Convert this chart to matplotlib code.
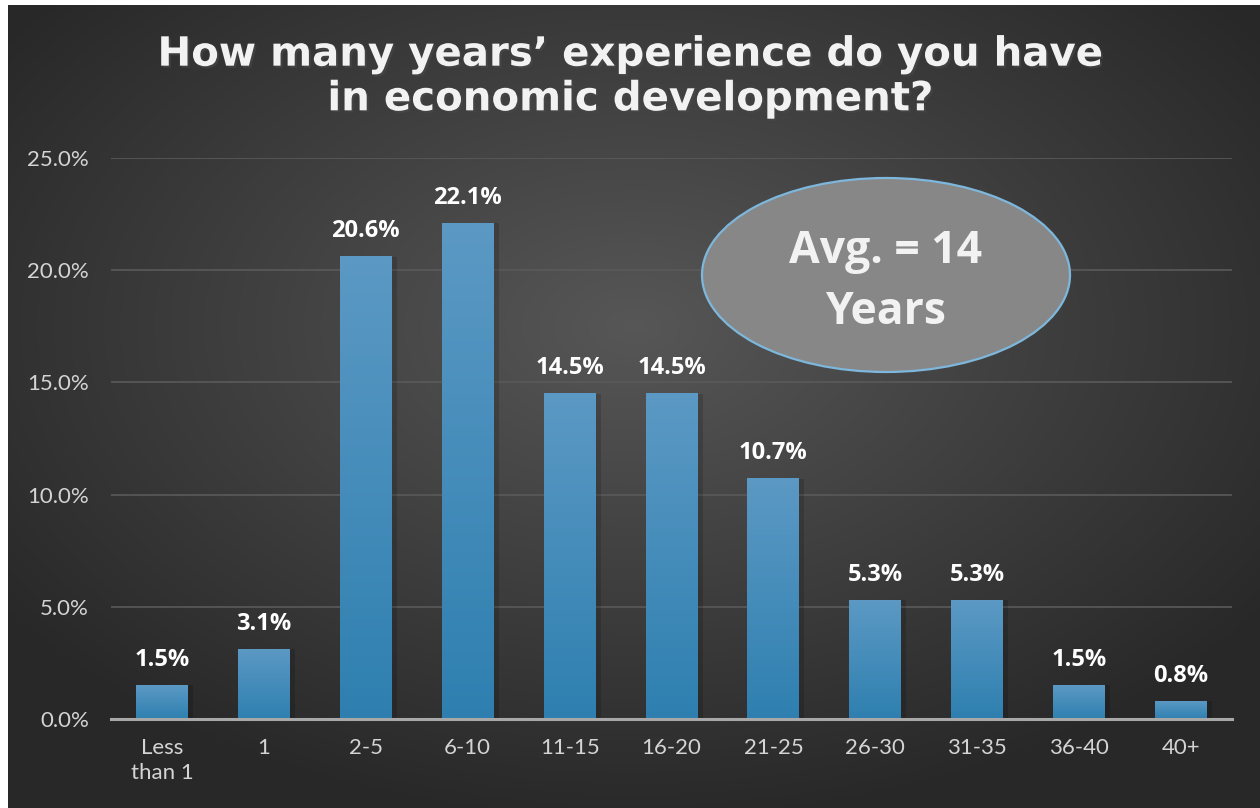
import numpy as np
import matplotlib.pyplot as plt
from matplotlib.patches import Ellipse
from matplotlib import patheffects as pe

categories = ['Less\nthan 1', '1', '2-5', '6-10', '11-15', '16-20',
              '21-25', '26-30', '31-35', '36-40', '40+']
shares = [1.5, 3.1, 20.6, 22.1, 14.5, 14.5, 10.7, 5.3, 5.3, 1.5, 0.8]
y_ticks = [0, 5, 10, 15, 20, 25]
title = 'How many years\u2019 experience do you have\nin economic development?'
note = 'Avg. = 14\nYears'

W, H = 1260, 808
fig = plt.figure(figsize=(W / 100, H / 100), dpi=100, facecolor='white')

# dark radial background
bg = fig.add_axes([8 / W, 0, 1 - 8 / W, 1 - 5 / H])
bg.axis('off')
yy, xx = np.mgrid[0:1:400j, 0:1:600j]
r = np.sqrt(((xx - 0.5) / 0.75) ** 2 + ((yy - 0.4) / 0.75) ** 2)
shade = np.clip(0.34 - 0.22 * r, 0.16, 0.34)
bg.imshow(np.dstack([shade, shade, shade]), aspect='auto',
          extent=[0, 1, 0, 1], origin='upper')
bg.set_xlim(0, 1)
bg.set_ylim(0, 1)

ax = fig.add_axes([111 / W, 89 / H, 1121 / W, 561 / H])
ax.patch.set_alpha(0)
x = np.arange(len(categories))
bars = ax.bar(x, shares, width=0.51, color='none', zorder=3)

# vertical gradient inside each bar
grad = np.linspace(0, 1, 256).reshape(-1, 1)
top = np.array([0.36, 0.60, 0.77])
bottom = np.array([0.18, 0.50, 0.69])
cols = bottom + (top - bottom) * grad[..., None]
for b in bars:
    x0, w, h = b.get_x(), b.get_width(), b.get_height()
    # soft shadow
    ax.bar(x0 + w / 2 + 0.03, h, width=w + 0.04, color='black', alpha=0.15,
           zorder=2, linewidth=0)
    ax.imshow(cols, extent=[x0, x0 + w, 0, h], origin='lower',
              aspect='auto', zorder=3)
    ax.text(x0 + w / 2, h + 0.6, f'{h:.1f}%', ha='center', va='bottom',
            color='white', fontsize=17, fontweight='bold',
            family='Open Sans', zorder=4)

ax.set_xlim(-0.5, len(categories) - 0.5)
ax.set_ylim(0, 25)
ax.set_yticks(y_ticks)
ax.set_yticklabels([f'{v:.1f}%' for v in y_ticks], color='#d4d4d4',
                   fontsize=16, family='Lato')
ax.set_xticks(x)
ax.set_xticklabels(categories, color='#d4d4d4', fontsize=16,
                   family='Lato', linespacing=1.3)
ax.tick_params(length=0, axis='y', pad=16)
ax.tick_params(length=0, axis='x', pad=14)
ax.grid(axis='y', color='#5a5a5a', linewidth=1.2, zorder=0)
for s in ['top', 'right', 'left']:
    ax.spines[s].set_visible(False)
ax.spines['bottom'].set_color('#a8a8a8')
ax.spines['bottom'].set_linewidth(2.2)
ax.spines['bottom'].set_zorder(5)

fig.text(0.5, 1 - 77 / H, title, ha='center', va='center', color='#f2f2f2',
         fontsize=29, fontweight='bold', family='DejaVu Sans',
         linespacing=1.15,
         path_effects=[pe.withSimplePatchShadow(offset=(1.5, -1.5),
                                                alpha=0.6)])

# average callout
ell = Ellipse((886 / W, 1 - 275 / H), 368 / W, 194 / H,
              transform=fig.transFigure, facecolor='#878787',
              edgecolor='#7db7dc', linewidth=1.6, zorder=6)
fig.add_artist(ell)
fig.text(886 / W, 1 - 282 / H, note, ha='center', va='center',
         color='#f2f2f2', fontsize=32, fontweight='bold',
         family='Open Sans', linespacing=1.5, zorder=7)

fig.savefig('out.png', dpi=100, facecolor='white')
